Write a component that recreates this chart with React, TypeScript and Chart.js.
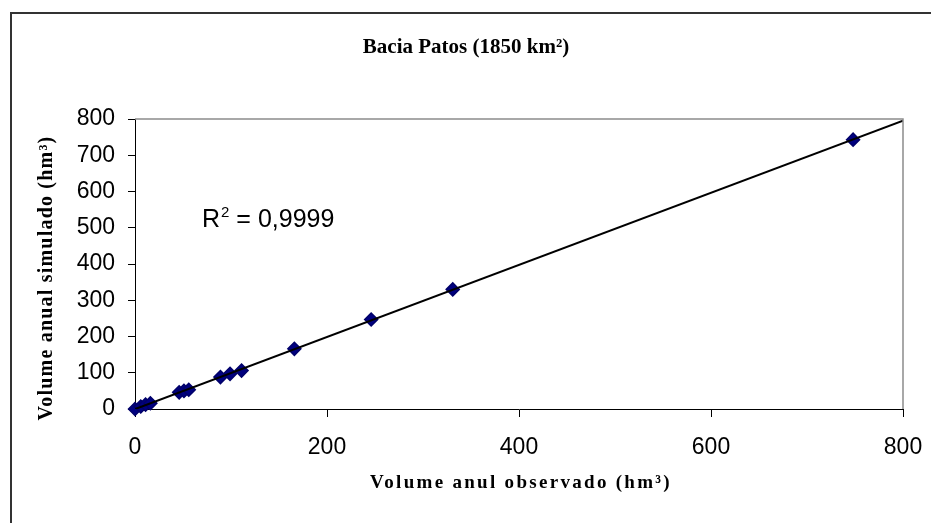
import React, { useEffect, useRef } from "react";
import { Chart, registerables } from "chart.js";

Chart.register(...registerables);

// Annual volumes (hm³): observed vs. simulated for each year
const observedVolume = [0, 6, 11, 16, 46, 51, 56, 89, 99, 111, 166, 246, 331, 748];
const simulatedVolume = [0, 7, 12, 16, 46, 50, 53, 88, 97, 106, 166, 247, 330, 743];

const xTickValues = [0, 200, 400, 600, 800];
const yTickValues = [0, 100, 200, 300, 400, 500, 600, 700, 800];

const chartTitle = "Bacia Patos (1850 km²)";
const xAxisTitle = "Volume anul observado (hm³)";
const yAxisTitle = "Volume anual simulado (hm³)";
const r2Label = "0,9999";

// Least-squares linear fit of simulated on observed
function linearFit(xs: number[], ys: number[]) {
  const n = xs.length;
  const mx = xs.reduce((a, b) => a + b, 0) / n;
  const my = ys.reduce((a, b) => a + b, 0) / n;
  let sxy = 0;
  let sxx = 0;
  for (let i = 0; i < n; i++) {
    sxy += (xs[i] - mx) * (ys[i] - my);
    sxx += (xs[i] - mx) * (xs[i] - mx);
  }
  const slope = sxy / sxx;
  return { slope, intercept: my - slope * mx };
}

const SERIF = '"Liberation Serif", "Times New Roman", serif';
const SANS = '"Liberation Sans", Arial, sans-serif';

const decorations = {
  id: "decorations",
  afterDraw(chart: any) {
    const { ctx, chartArea } = chart;
    ctx.save();

    // outer frame
    ctx.strokeStyle = "#333333";
    ctx.lineWidth = 2;
    ctx.strokeRect(11, 13, 940, 530);

    // plot area border (top and right)
    ctx.strokeStyle = "#8c8c8c";
    ctx.lineWidth = 1.5;
    ctx.beginPath();
    ctx.moveTo(chartArea.left, chartArea.top);
    ctx.lineTo(chartArea.right, chartArea.top);
    ctx.lineTo(chartArea.right, chartArea.bottom);
    ctx.stroke();

    ctx.fillStyle = "#000";
    ctx.textAlign = "center";
    ctx.textBaseline = "middle";

    // chart title
    ctx.font = `bold 21px ${SERIF}`;
    ctx.fillText(chartTitle, 466, 48);

    // x axis title
    ctx.font = `bold 19px ${SERIF}`;
    (ctx as any).letterSpacing = "2.3px";
    ctx.fillText(xAxisTitle, 521, 483);

    // y axis title
    ctx.save();
    ctx.translate(47, 278);
    ctx.rotate(-Math.PI / 2);
    ctx.font = `bold 20px ${SERIF}`;
    (ctx as any).letterSpacing = "1.2px";
    ctx.fillText(yAxisTitle, 0, 0);
    ctx.restore();
    (ctx as any).letterSpacing = "0px";

    // R² annotation
    ctx.textAlign = "left";
    ctx.textBaseline = "alphabetic";
    let x = 202;
    const base = 227;
    ctx.font = `25px ${SANS}`;
    ctx.fillText("R", x, base);
    x += ctx.measureText("R").width;
    ctx.font = `15px ${SANS}`;
    ctx.fillText("2", x + 1, base - 10);
    x += ctx.measureText("2").width + 1;
    ctx.font = `25px ${SANS}`;
    ctx.fillText(" = " + r2Label, x, base);

    ctx.restore();
  },
};

export default function App() {
  const canvasRef = useRef<HTMLCanvasElement | null>(null);

  useEffect(() => {
    document.body.style.margin = "0";
    const canvas = canvasRef.current;
    if (!canvas) return;

    const fit = linearFit(observedVolume, simulatedVolume);
    const xMin = xTickValues[0];
    const xMax = xTickValues[xTickValues.length - 1];
    const trend = [
      { x: xMin, y: fit.slope * xMin + fit.intercept },
      { x: xMax, y: fit.slope * xMax + fit.intercept },
    ];
    const points = observedVolume.map((v, i) => ({ x: v, y: simulatedVolume[i] }));

    const tickFont = { family: SANS, size: 23 };

    const chart = new Chart(canvas, {
      type: "scatter",
      data: {
        datasets: [
          {
            type: "line",
            label: "Linear",
            data: trend,
            borderColor: "#000000",
            borderWidth: 2,
            pointRadius: 0,
            fill: false,
            order: 0,
          } as any,
          {
            label: "Volume",
            data: points,
            pointStyle: "rectRot",
            pointRadius: 6.5,
            backgroundColor: "#000080",
            borderColor: "#00006a",
            borderWidth: 1.5,
            clip: false,
            order: 1,
          },
        ],
      },
      options: {
        animation: false,
        responsive: false,
        layout: { padding: { top: 119, right: 28, left: 0, bottom: 0 } },
        plugins: {
          legend: { display: false },
          title: { display: false },
          tooltip: { enabled: false },
        },
        scales: {
          x: {
            type: "linear",
            min: xMin,
            max: xMax,
            afterBuildTicks: (scale: any) => {
              scale.ticks = xTickValues.map((value) => ({ value }));
            },
            afterFit: (scale: any) => {
              scale.height = 114;
              scale.paddingLeft = 0;
              scale.paddingRight = 0;
            },
            ticks: { color: "#000", font: tickFont, padding: 17, maxRotation: 0 },
            grid: { drawOnChartArea: false, drawTicks: true, tickLength: 8, color: "#000" },
            border: { color: "#000", width: 1 },
          },
          y: {
            type: "linear",
            min: yTickValues[0],
            max: yTickValues[yTickValues.length - 1],
            afterBuildTicks: (scale: any) => {
              scale.ticks = yTickValues.map((value) => ({ value }));
            },
            afterFit: (scale: any) => {
              scale.width = 135;
              scale.paddingTop = 0;
              scale.paddingBottom = 0;
            },
            ticks: { color: "#000", font: tickFont, padding: 13 },
            grid: { drawOnChartArea: false, drawTicks: true, tickLength: 7, color: "#000" },
            border: { color: "#000", width: 1 },
          },
        },
      },
      plugins: [decorations],
    });

    return () => chart.destroy();
  }, []);

  return (
    <div style={{ width: 931, height: 523, background: "#fff" }}>
      <canvas ref={canvasRef} width={931} height={523} style={{ display: "block", width: 931, height: 523 }} />
    </div>
  );
}
